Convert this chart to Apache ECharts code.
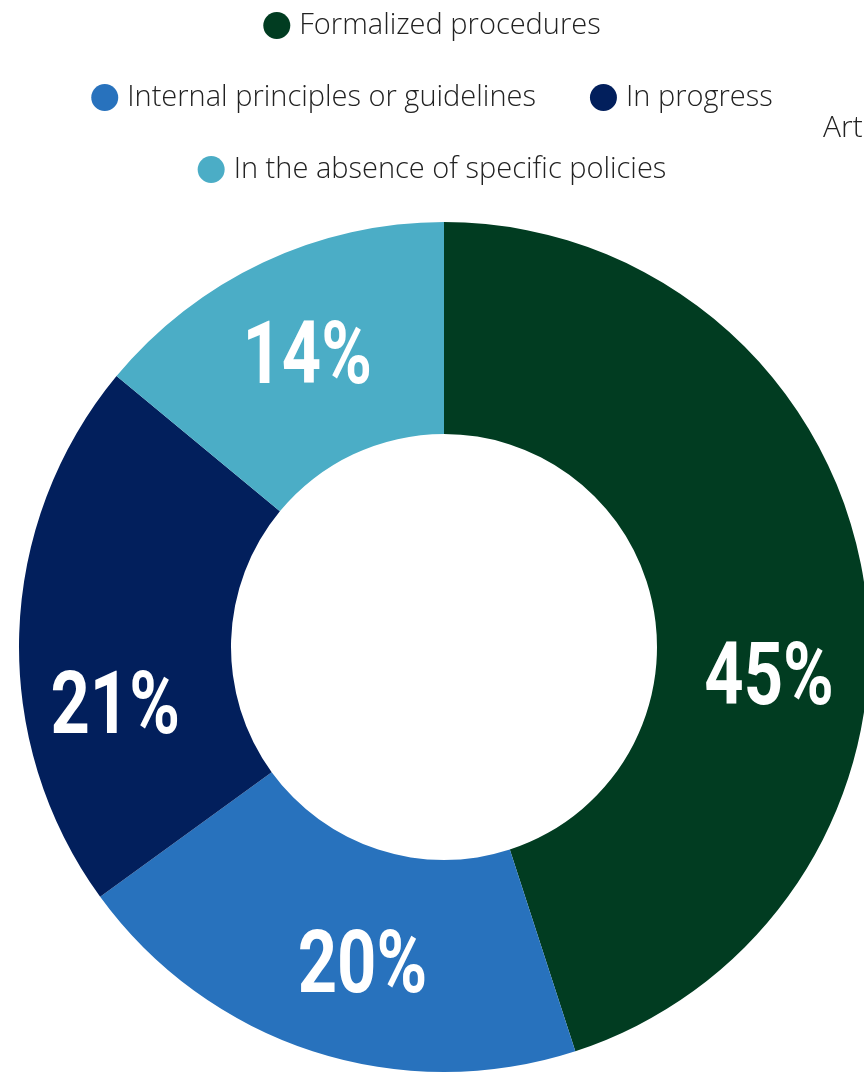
<!DOCTYPE html>
<html>
<head>
<meta charset="utf-8">
<script src="https://cdn.jsdelivr.net/npm/echarts@6/dist/echarts.min.js"></script>
<style>
  html, body { margin: 0; padding: 0; background: #ffffff; }
  #chart { width: 864px; height: 1073px; }
</style>
</head>
<body>
<div id="chart"></div>
<script>
// Policy status shares (percent)
const categories = [
  'Formalized procedures',
  'Internal principles or guidelines',
  'In progress',
  'In the absence of specific policies'
];
const shares = [45, 20, 21, 14];
const colors = ['#013c21', '#2872bd', '#021f5c', '#4badc6'];
// Label nudges away from each ring segment's mid point
const labelOffsets = [[10, 85], [17, 20], [-10, 74], [-1, 3]];

const legendFont = '"Open Sans", Lato, sans-serif';
const labelFont = 'Roboto, "Liberation Sans", sans-serif';

const legendRow = (names, top) => ({
  data: names,
  top: top,
  left: 'center',
  padding: [5, 0, 5, 10],
  icon: 'circle',
  itemWidth: 27,
  itemHeight: 27,
  itemGap: 54,
  textStyle: { fontFamily: legendFont, fontSize: 29, color: '#222222', fontWeight: 300, padding: [0, 0, 0, 4] },
  selectedMode: false
});

const chart = echarts.init(document.getElementById('chart'), null, { renderer: 'canvas' });
chart.setOption({
  animation: false,
  color: colors,
  title: {
    text: 'Art',
    left: 818,
    top: 108,
    textStyle: { fontFamily: legendFont, fontSize: 30, fontWeight: 300, color: '#222222' }
  },
  legend: [
    legendRow([categories[0]], 6),
    legendRow([categories[1], categories[2]], 78),
    legendRow([categories[3]], 150)
  ],
  series: [{
    type: 'pie',
    center: [444, 647],
    radius: [213, 425],
    startAngle: 90,
    clockwise: true,
    label: { show: false },
    labelLine: { show: false },
    emphasis: { disabled: true },
    data: categories.map((name, i) => ({
      name: name,
      value: shares[i],
      itemStyle: { color: colors[i] }
    }))
  }]
});

// Condensed percentage labels placed from the pie's own sector layout
const pieData = chart.getModel().getSeriesByIndex(0).getData();
const labels = [];
for (let i = 0; i < pieData.count(); i++) {
  const lay = pieData.getItemLayout(i);
  const mid = (lay.startAngle + lay.endAngle) / 2;
  const rr = (lay.r + lay.r0) / 2;
  labels.push({
    type: 'text',
    z: 100,
    x: lay.cx + rr * Math.cos(mid) + labelOffsets[i][0],
    y: lay.cy + rr * Math.sin(mid) + labelOffsets[i][1],
    scaleX: 0.78,
    style: {
      text: pieData.get('value', i) + '%',
      fill: '#ffffff',
      font: 'bold 88px ' + labelFont,
      align: 'center',
      verticalAlign: 'middle'
    }
  });
}
chart.setOption({ graphic: { elements: labels } });
</script>
</body>
</html>
